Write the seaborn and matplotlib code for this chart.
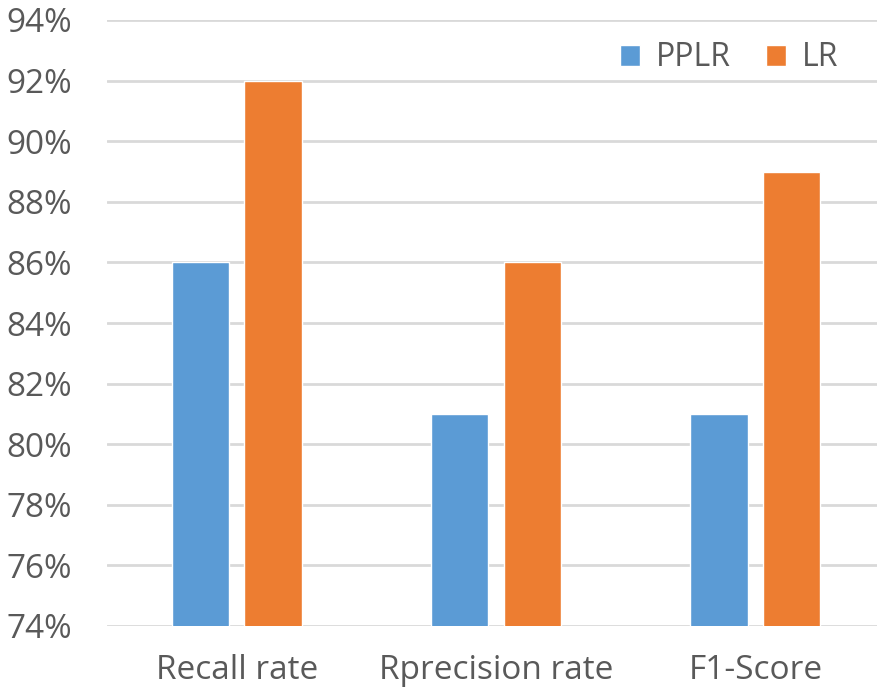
import matplotlib
matplotlib.use("Agg")
import matplotlib.pyplot as plt
import matplotlib.ticker as mticker
import seaborn as sns
import pandas as pd

categories = ["Recall rate", "Rprecision rate", "F1-Score"]
pplr = [86, 81, 81]
lr = [92, 86, 89]
series_names = ["PPLR", "LR"]
y_ticks = [74, 76, 78, 80, 82, 84, 86, 88, 90, 92, 94]

df = pd.DataFrame({
    "metric": categories * 2,
    "model": [series_names[0]] * 3 + [series_names[1]] * 3,
    "value": pplr + lr,
})

sns.set_theme(style="white")
plt.rcParams["font.family"] = ["Open Sans", "DejaVu Sans"]

text_color = "#595959"
grid_color = "#D9D9D9"
palette = {"PPLR": "#5B9BD5", "LR": "#ED7D31"}

fig = plt.figure(figsize=(8.78, 6.97), dpi=100)
ax = fig.add_axes([107 / 878, (697 - 626) / 697, (885 - 107) / 878, (626 - 20) / 697])

sns.barplot(data=df, x="metric", y="value", hue="model", palette=palette,
            width=0.56, gap=0.21, ax=ax, zorder=3, saturation=1)

ax.set_ylim(74, 94)
ax.set_xlim(-0.5, 2.5)
ax.set_yticks(y_ticks)
ax.yaxis.set_major_formatter(mticker.FuncFormatter(lambda v, p: f"{v:.0f}%"))
ax.grid(axis="y", color=grid_color, linewidth=2, zorder=0)
ax.set_axisbelow(True)
for s in ax.spines.values():
    s.set_visible(False)
ax.tick_params(axis="both", length=0, colors=text_color)
ax.tick_params(axis="y", labelsize=24, pad=25)
ax.tick_params(axis="x", labelsize=24, pad=20)
ax.set_xlabel("")
ax.set_ylabel("")

leg = ax.legend(loc="upper right", bbox_to_anchor=(0.977, 1.012), frameon=False,
                fontsize=23, handlelength=0.62, handleheight=0.62,
                handletextpad=0.5, columnspacing=1.1, ncol=2)
for t in leg.get_texts():
    t.set_color(text_color)

fig.savefig("out.png", dpi=100)
